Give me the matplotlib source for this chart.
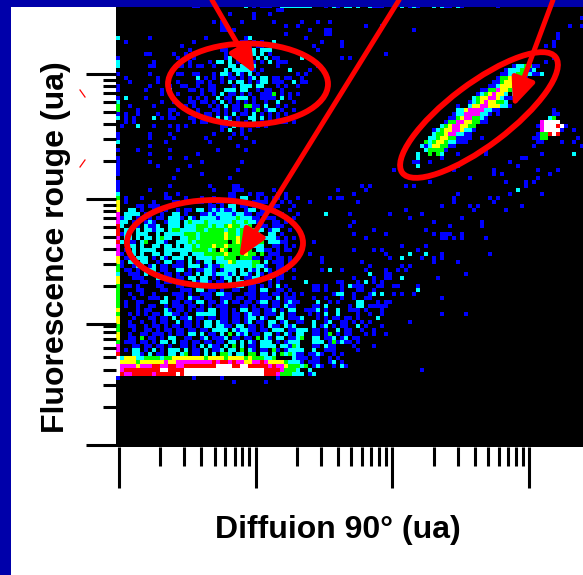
import numpy as np
import matplotlib
matplotlib.use("Agg")
import matplotlib.pyplot as plt
from matplotlib.colors import ListedColormap
from matplotlib.patches import Ellipse, Rectangle

plt.rcParams['font.family'] = ['Liberation Sans', 'DejaVu Sans']

# colour levels of the dot plot: 0 black ... 7 white
level_colors = ['#000000', '#0000ff', '#00ffff', '#00ff00', '#ffff00', '#ff00ff', '#ff0000', '#ffffff']

# each block is read row by row from the picture, '.' is an empty cell
top_rows = [  # starts at row 0, col 0
    "........................................11",
    "............................1.....1...1",
    "..................................1",
    "........................1.1....1.......1......1...1..1",
    "..........................11..............1..1",
    "..........................11.1..................1...1",
    "..........................................1.........11",
    "2.......1.............1.........12.............1",
    "..1................1...........11.1.1..2...........1",
    "................1..............111.11............1......1",
    "..................1.......11.....12.222...........1",
    ".......11.....1..1.........1..1.1.2.2.1.......1",
    "1..............1...1.......12...22.2.2.11.....2",
    "2........1........1....1.22.2.1...1.1.2.111",
    "2.......11.....11.1.11..1...22.22.2.....1.........1",
    "...........................2.222221.1......2....1",
    "1.......1......11..11...1.221.21.2.1.........1.1",
    "..1.......1.........2.1.1.1.11.1.12.22.11.11..1",
    "...1......1....1....11.1..1.2.22.1.122.111..2.11",
    "1.......1....1..11..1..11....1.222.22...1.1..1",
    "1......1...1.2....11.1.11..222.22..1.11..1",
    "...........1...1.....1..1.2.11.1.1..1113.1.1.1",
    "1.2....1..........1.1.1..2.11.222.1.1111.2.1",
    "2..........1..1...11.11.1.2.1.1.1.1..1..2...1",
    "3..1.....1.......1.1...1.1.2.11.3311.2..1.1",
    "3....1.......11.....1...11.1.11.1.13.122.1..1",
    "1.1..1....1..1.1...11.11.1.1.2.11.2.1.1.1.1",
    "2.1.1....2.1.11...11...1.2.21.1..22.2.1.1",
    "..1.1..............1.11..1..2.1.1.2.1.12.11.1",
    ".1...2...1...1.1.1........11.2.1...1.1.",
    "...............1..........1.2..1.1.....",
    "1.......1....1..........1....1.1.......",
    "1.......1.....1.......1.....1...1......",
    "2...........1..........1..........1....",
    "........1.....................1.......",
    "1....1.......1...........1......1.....",
    "........1...........1.................",
    "1............1...1....................",
    "1.......1............1.........1......",
    "1.........1.......1...................",
    "1..............1..............1.......",
    "1....................1................",
    "..............1.............1.........",
    "1.....................................",
]

mid_rows = [  # starts at row 44, col 0
    "1............1.........1.....11",
    "1.......1...............1....111.......1",
    "2...........1..1............11...1.11...1.1",
    "3.1...1.....11...1...1..1...11.22..1.1.11.1..1",
    "4.1......1....11..1.11.1.11..1.2..1111...1.1",
    "4....11.111..1.........11.1.22.11.11...11...1",
    "4..22.1..11.1..1.11.22.1212112..122.11.1...1",
    "5.2222.11..1..22.1...1121222212211.111...1...1",
    "5122.11.1.11.2221.21.222212222322211.111..1.1",
    "522.11.121..1222.23222322222232232211..11.1",
    "62..11.2112..222.22233323223433223..11.111",
    "6.22.2.22122.233222233233332332333322.122..1",
    "6122.222..2.222223332333333433233333..22.1",
    "5.22.2.22.2322..2233233333343343333322221.1.1",
    "62.11.23..221..2223233333333.34333333.22211",
    "5..22.2..22.22.2.22323334334333333222..11.1.1",
    "5.1.2.2222..2222222333323.43.33333.2211.1.11",
    "51.22.2..22.22..22.2223333343333433.3.111",
    "4.11.222.1.21.222.2.2222322333.33311.11.11.1",
    "41.22.22..1.22.11.2.1.22.22243222233.2.111.1",
    "31..122.12.11.111.222.1211322222223221..11.1",
    "3.11.1..22.11..22.1.11221.1222.2.212.21.111.1",
    "2..111.2.11.11.1.11.2.22122212.221.21.11.1",
    "4...111...22.1.11.22.22.1.122.2.1122.22.11",
    "4.....11..1.11.1...21221.11.2.22.111..1.1",
    "3.11.1....11...11...1.....1.2.22.11.1.1.2.1",
]

low_rows = [  # starts at row 70, col 0
    "3....11....11...111.22.11.1..11..11.22..11.1.",
    "3..1..1..1....111.1..111.2211...111.11.11.1",
    "3...1...111.2..11.211.11..111.11.11.111.2.11",
    "3.1..11....22.11.11.22.11.12.11.11.122.11.12",
    "3.1..1..11..1.111.11.1.1.111...11.1.11.11.21",
    "4....1.11...21.11.1.11.22.11.1.22.11.112.1.22",
    "3..1.1.1.11.2211.1..22222.11.11.1211.111.2.12",
    "4...1...11.11.2.112.11.11.11.11.122.21..22.11",
    "4..1..1..1.11..2.11.1.22.211.11.12.11.22.12.",
    "3..11..1.11.1.11.11.1.22.2211.22.11.1.211.212",
    "3...1..11.1.11.11.11.11.2222.212211.11.222.12",
    "4..1..11.111.1.11.22.2.11.2.3.212.11.22.1.21",
    "4..11.3.11.1.22..11..12.1112.11.11.3.21.22.12",
    "3.111.11.1.22.2.11.11.11.11.22.2.21.222.1.122",
    "5...11.11.11.1..11.1.2.211.2.3.2.11.2222.2212",
    "5.1.22.1.2.1.222.2.11.2.112.22.3.21.11.31.122",
    "6...221.2.11.22.23.11.2.2.332.22.33.22.2.3232",
    "7244422333323344444444344443444434333223.",
]

band_rows = [  # starts at row 88, col 0
    "7444434444445445555555556566565544556544443222" + "1.111..1..1",
    "75555455566556655666666667777667766666565543332" + "3.121..1.21",
    "75666666666776666" + "7" * 20 + "666653332..2",
    "765566666566666" + "76" + "7" * 20 + "6665333222.12",
]

tail_rows = [  # starts at row 68, col 44
    "...2.......11...1...1...",
    ".....11.1...1.2111...11.",
    ".....11.1...1...11..1...",
    "1.1.......122..1...12.2..1",
    "1....1..1...1..1..11....",
    "11....2..1.1....22...1.11",
    "1....11.2.....1.22.11111",
    "...1112.1..2..111.1...1.",
    "1...1.1.2..2....1..1..1.",
    ".12...1.1.11.11.1....2..",
    ".11..2..12..11.1.1.1....",
    "2....2.12.1.11..2.1...1.",
    "1222.11.1..2.11..1..1...",
    ".22..11.13.1.11...1.1...",
    "123..22.112.12.11.......",
    ".2...222.131211.1.......",
    "32...11.211....1....1...",
    ".22..2..111.....1.......",
    "211.1121..1.1...........",
    "2111.11..1.1............",
    "332..2....2.............",
]

diag_rows = [  # starts at row 14, col 63
    "....................................1223311",
    "..................................12223312",
    ".................................11223332112",
    "................................13344331",
    "...............................1134443311",
    "..............................112444331",
    "............................1133544321",
    "...........................12345442.21",
    "..........................23445542111",
    ".........................1234544332",
    "......................1..24455444221",
    "......................22455552211",
    ".....................1225555221.1",
    "....................1134553321",
    "...................13355443311",
    "..................234554433",
    ".................2344554221",
    "................2334552211",
    "...............22344331111",
    "..............32344322111",
    ".............212443311",
    "..............233331",
    "............2..3.32",
    "............2.....1",
    "...........11..1",
    "............2",
]

spot_rows = [  # starts at row 26, col 104
    ".....1",
    "....23",
    "..57777",
    ".15777671",
    "..577771",
    ".133676",
    "1133",
    ".11",
]

# isolated cells outside the dense clouds
blue_cols = [55, 55, 56, 59, 61, 62, 63, 53, 48, 60, 58, 68, 72, 76, 73, 79, 59, 58, 83, 86, 64, 77,
             59, 67, 79, 81, 82, 83, 62, 81, 82, 84, 86, 86, 92, 91, 91, 49, 71, 77, 59, 64, 66, 75,
             67, 81, 48, 93, 68, 76, 79, 79, 81, 85, 61, 51, 51, 63, 71, 73, 51, 56, 62, 67, 70, 72,
             67, 68, 67, 68, 87, 44, 59, 64, 80, 66, 47, 75, 69, 70, 71, 74, 81, 81, 87, 73, 76, 67,
             98, 100, 94, 96, 88, 97, 102, 98, 85, 84, 93, 95, 94, 88, 90, 89, 97, 101, 81, 72, 74,
             78, 69, 85, 102, 92, 67, 74, 110, 109, 107, 109, 107, 109, 114, 115, 114, 116, 111, 104,
             106, 101, 105, 110, 96, 108, 105, 97, 102, 102, 104, 98, 106, 84, 84, 85, 93, 95, 88, 94,
             84, 78, 92, 85, 79, 76, 91, 109, 110, 116, 113, 116, 110, 110, 62, 66, 53, 74, 56, 67, 56, 58]
blue_rows = [45, 47, 47, 46, 44, 45, 44, 47, 48, 48, 51, 51, 50, 51, 52, 53, 53, 54, 54, 52, 55, 55,
             56, 56, 56, 56, 56, 56, 57, 57, 57, 57, 56, 57, 57, 53, 54, 58, 59, 59, 60, 60, 60, 60,
             61, 61, 61, 61, 62, 62, 62, 63, 62, 63, 63, 62, 63, 64, 64, 64, 65, 65, 65, 65, 65, 65,
             66, 66, 67, 67, 66, 67, 67, 67, 67, 68, 68, 69, 69, 69, 71, 71, 72, 76, 76, 78, 90, 81,
             38, 39, 40, 41, 42, 43, 43, 46, 46, 47, 47, 47, 48, 49, 49, 50, 50, 49, 49, 44, 44,
             43, 40, 39, 37, 35, 11, 5, 6, 8, 9, 9, 13, 12, 30, 32, 33, 34, 33, 34,
             36, 37, 40, 40, 41, 41, 42, 43, 43, 44, 43, 46, 46, 47, 48, 46, 47, 47, 42, 41,
             40, 43, 36, 36, 30, 34, 32, 25, 26, 2, 4, 4, 6, 7, 4, 4, 5, 5, 8, 11, 12, 12]
cyan_cols = [52, 53, 73, 77, 71, 71, 63, 62, 75, 100, 114, 100]
cyan_rows = [51, 65, 61, 61, 62, 67, 66, 68, 70, 45, 36, 45]

# the cut row just under the top border
edge_cols = [19, 20, 32, 34, 36, 37, 38, 41, 42, 43, 44, 45, 46, 47, 48, 52, 54, 55, 57, 58, 60, 63,
             64, 65, 66, 71, 73, 74, 75, 79, 81, 82, 83, 85, 86, 95]
edge_levels = [1, 1, 2, 1, 1, 1, 1, 2, 2, 2, 2, 2, 2, 2, 2, 1, 2, 1, 2, 2, 2, 2,
               1, 1, 1, 2, 1, 2, 1, 2, 2, 1, 1, 2, 1, 1]

# first row of the grid lies at row -1, hidden by the border
n_cols, n_rows = 117, 111
grid = np.zeros((n_rows, n_cols), dtype=int)


def paint(rows, row0, col0):
    for i, line in enumerate(rows):
        for j, ch in enumerate(line):
            if ch != '.' and col0 + j < n_cols:
                grid[row0 + i + 1, col0 + j] = int(ch)


paint(top_rows, 0, 0)
paint(mid_rows, 44, 0)
paint(low_rows, 70, 0)
paint(tail_rows, 68, 44)
paint(band_rows, 88, 0)
paint(diag_rows, 14, 63)
paint(spot_rows, 26, 104)
for c, r in zip(blue_cols, blue_rows):
    if grid[r + 1, c] == 0:
        grid[r + 1, c] = 1
for c, r in zip(cyan_cols, cyan_rows):
    grid[r + 1, c] = 2
for c, lev in zip(edge_cols, edge_levels):
    grid[0, c] = lev
# a few cells below the band
for c, r in zip([0, 19, 26, 29, 37, 40, 76], [92, 92, 92, 93, 93, 92, 90]):
    grid[r + 1, c] = 1

W, H = 583, 575
fig = plt.figure(figsize=(W / 100, H / 100), dpi=100, facecolor='white')
ax = fig.add_axes([116 / W, (H - 447) / H, (W - 116) / W, 440 / H])
ax.set_facecolor('black')

# log axes: one decade is 136.7 px across and 125 px up, first y tick a little above 1
x_edges = 10 ** ((116 + 4 * np.arange(n_cols + 1) - 119) / 136.7)
y_edges = 10 ** ((449 - (4 + 4 * np.arange(n_rows + 1))) / 125)
ax.pcolormesh(x_edges, y_edges, grid, cmap=ListedColormap(level_colors), vmin=-0.5, vmax=7.5,
              shading='flat', antialiased=False)
ax.set_xscale('log')
ax.set_yscale('log')
ax.set_xlim(10 ** ((116 - 119) / 136.7), 10 ** ((583 - 119) / 136.7))
ax.set_ylim(10 ** ((449 - 447) / 125), 10 ** ((449 - 7) / 125))

for s in ax.spines.values():
    s.set_visible(False)
x_major = [1, 10, 100, 1000]
x_minor = [m * d for d in [1, 10, 100] for m in range(2, 10)]
y_major = [1.08, 10, 100, 1000]
y_minor = [m * d for d in [1.08, 10, 100] for m in range(2, 10)]
ax.set_xticks(x_major)
ax.set_xticks(x_minor, minor=True)
ax.set_yticks(y_major)
ax.set_yticks(y_minor, minor=True)
ax.tick_params(axis='x', which='major', length=41 * 0.72, width=2.2, color='black', labelbottom=False)
ax.tick_params(axis='x', which='minor', length=19 * 0.72, width=2.2, color='black', labelbottom=False)
ax.tick_params(axis='y', which='major', length=30 * 0.72, width=2.2, color='black', labelleft=False)
ax.tick_params(axis='y', which='minor', length=13 * 0.72, width=2.2, color='black', labelleft=False)

fig.text(56 / W, 1 - 247 / H, 'Fluorescence rouge (ua)', rotation=90, ha='center', va='center',
         fontsize=23, fontweight='bold', color='black')
fig.text(338 / W, 1 - 530 / H, 'Diffuion 90° (ua)', ha='center', va='center',
         fontsize=23, fontweight='bold', color='black')

# overlay in pixel coordinates for the frame and the hand drawn marks
over = fig.add_axes([0, 0, 1, 1])
over.set_xlim(0, W)
over.set_ylim(H, 0)
over.axis('off')
over.patch.set_alpha(0)
frame = '#0000aa'
over.add_patch(Rectangle((0, 0), W, 7, color=frame, lw=0))
over.add_patch(Rectangle((0, 0), 11, H, color=frame, lw=0))

red = '#ff0000'
for xy, w, h, ang in [((248, 84), 160, 81, 0), ((215, 243), 176, 86, 0), ((479, 115), 192, 62, -37)]:
    over.add_patch(Ellipse(xy, w, h, angle=ang, fill=False, ec=red, lw=4.2))
for start, tip in [((212, 0), (255, 74)), ((399, 0), (239, 258)), ((553, 0), (513, 107))]:
    over.annotate('', xy=tip, xytext=start,
                  arrowprops=dict(arrowstyle='-|>,head_length=1.3,head_width=0.55', color=red, lw=3.6,
                                  mutation_scale=13, shrinkA=0, shrinkB=0))
over.plot([80, 85], [90, 97], color=red, lw=0.9)
over.plot([80, 85], [167, 160], color=red, lw=0.9)

fig.savefig('out.png', dpi=100)
